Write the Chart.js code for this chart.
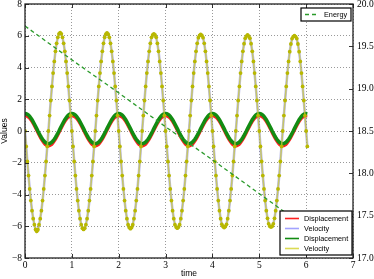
<!DOCTYPE html>
<html>
<head>
<meta charset="utf-8">
<script src="https://cdn.jsdelivr.net/npm/chart.js@4.4.1/dist/chart.umd.min.js"></script>
<style>
  html, body { margin: 0; padding: 0; background: #fff; }
  #wrap { width: 374px; height: 279px; position: relative; }
</style>
</head>
<body>
<div id="wrap"><canvas id="plot"></canvas></div>
<script>
// --- DATA ---
const TIME = [
  0,0.025,0.05,0.075,0.1,0.125,0.15,0.175,0.2,0.225,0.25,0.275,0.3,0.325,0.35,0.375,0.4,0.425,0.45,0.475,
  0.5,0.525,0.55,0.575,0.6,0.625,0.65,0.675,0.7,0.725,0.75,0.775,0.8,0.825,0.85,0.875,0.9,0.925,0.95,0.975,
  1,1.025,1.05,1.075,1.1,1.125,1.15,1.175,1.2,1.225,1.25,1.275,1.3,1.325,1.35,1.375,1.4,1.425,1.45,1.475,
  1.5,1.525,1.55,1.575,1.6,1.625,1.65,1.675,1.7,1.725,1.75,1.775,1.8,1.825,1.85,1.875,1.9,1.925,1.95,1.975,
  2,2.025,2.05,2.075,2.1,2.125,2.15,2.175,2.2,2.225,2.25,2.275,2.3,2.325,2.35,2.375,2.4,2.425,2.45,2.475,
  2.5,2.525,2.55,2.575,2.6,2.625,2.65,2.675,2.7,2.725,2.75,2.775,2.8,2.825,2.85,2.875,2.9,2.925,2.95,2.975,
  3,3.025,3.05,3.075,3.1,3.125,3.15,3.175,3.2,3.225,3.25,3.275,3.3,3.325,3.35,3.375,3.4,3.425,3.45,3.475,
  3.5,3.525,3.55,3.575,3.6,3.625,3.65,3.675,3.7,3.725,3.75,3.775,3.8,3.825,3.85,3.875,3.9,3.925,3.95,3.975,
  4,4.025,4.05,4.075,4.1,4.125,4.15,4.175,4.2,4.225,4.25,4.275,4.3,4.325,4.35,4.375,4.4,4.425,4.45,4.475,
  4.5,4.525,4.55,4.575,4.6,4.625,4.65,4.675,4.7,4.725,4.75,4.775,4.8,4.825,4.85,4.875,4.9,4.925,4.95,4.975,
  5,5.025,5.05,5.075,5.1,5.125,5.15,5.175,5.2,5.225,5.25,5.275,5.3,5.325,5.35,5.375,5.4,5.425,5.45,5.475,
  5.5,5.525,5.55,5.575,5.6,5.625,5.65,5.675,5.7,5.725,5.75,5.775,5.8,5.825,5.85,5.875,5.9,5.925,5.95,5.975,
  6,6.025
];

const DISPLACEMENT_RED = [
  0.93,0.92,0.88,0.83,0.75,0.65,0.54,0.41,0.27,0.13,-0.02,-0.17,-0.31,-0.45,-0.58,-0.69,-0.79,-0.87,-0.92,-0.96,
  -0.97,-0.96,-0.92,-0.87,-0.79,-0.69,-0.58,-0.45,-0.31,-0.17,-0.02,0.13,0.27,0.41,0.54,0.65,0.75,0.83,0.88,0.92,
  0.93,0.92,0.88,0.83,0.75,0.65,0.54,0.41,0.27,0.13,-0.02,-0.17,-0.31,-0.45,-0.58,-0.69,-0.79,-0.87,-0.92,-0.96,
  -0.97,-0.96,-0.92,-0.87,-0.79,-0.69,-0.58,-0.45,-0.31,-0.17,-0.02,0.13,0.27,0.41,0.54,0.65,0.75,0.83,0.88,0.92,
  0.93,0.92,0.88,0.83,0.75,0.65,0.54,0.41,0.27,0.13,-0.02,-0.17,-0.31,-0.45,-0.58,-0.69,-0.79,-0.87,-0.92,-0.96,
  -0.97,-0.96,-0.92,-0.87,-0.79,-0.69,-0.58,-0.45,-0.31,-0.17,-0.02,0.13,0.27,0.41,0.54,0.65,0.75,0.83,0.88,0.92,
  0.93,0.92,0.88,0.83,0.75,0.65,0.54,0.41,0.27,0.13,-0.02,-0.17,-0.31,-0.45,-0.58,-0.69,-0.79,-0.87,-0.92,-0.96,
  -0.97,-0.96,-0.92,-0.87,-0.79,-0.69,-0.58,-0.45,-0.31,-0.17,-0.02,0.13,0.27,0.41,0.54,0.65,0.75,0.83,0.88,0.92,
  0.93,0.92,0.88,0.83,0.75,0.65,0.54,0.41,0.27,0.13,-0.02,-0.17,-0.31,-0.45,-0.58,-0.69,-0.79,-0.87,-0.92,-0.96,
  -0.97,-0.96,-0.92,-0.87,-0.79,-0.69,-0.58,-0.45,-0.31,-0.17,-0.02,0.13,0.27,0.41,0.54,0.65,0.75,0.83,0.88,0.92,
  0.93,0.92,0.88,0.83,0.75,0.65,0.54,0.41,0.27,0.13,-0.02,-0.17,-0.31,-0.45,-0.58,-0.69,-0.79,-0.87,-0.92,-0.96,
  -0.97,-0.96,-0.92,-0.87,-0.79,-0.69,-0.58,-0.45,-0.31,-0.17,-0.02,0.13,0.27,0.41,0.54,0.65,0.75,0.83,0.88,0.92,
  0.93,0.92
];

const DISPLACEMENT_GREEN = [
  1.10,1.09,1.05,1.00,0.92,0.82,0.71,0.58,0.44,0.30,0.15,0.00,-0.14,-0.28,-0.41,-0.52,-0.62,-0.70,-0.75,-0.79,
  -0.80,-0.79,-0.75,-0.70,-0.62,-0.52,-0.41,-0.28,-0.14,0.00,0.15,0.30,0.44,0.58,0.71,0.82,0.92,1.00,1.05,1.09,
  1.10,1.09,1.05,1.00,0.92,0.82,0.71,0.58,0.44,0.30,0.15,0.00,-0.14,-0.28,-0.41,-0.52,-0.62,-0.70,-0.75,-0.79,
  -0.80,-0.79,-0.75,-0.70,-0.62,-0.52,-0.41,-0.28,-0.14,0.00,0.15,0.30,0.44,0.58,0.71,0.82,0.92,1.00,1.05,1.09,
  1.10,1.09,1.05,1.00,0.92,0.82,0.71,0.58,0.44,0.30,0.15,0.00,-0.14,-0.28,-0.41,-0.52,-0.62,-0.70,-0.75,-0.79,
  -0.80,-0.79,-0.75,-0.70,-0.62,-0.52,-0.41,-0.28,-0.14,0.00,0.15,0.30,0.44,0.58,0.71,0.82,0.92,1.00,1.05,1.09,
  1.10,1.09,1.05,1.00,0.92,0.82,0.71,0.58,0.44,0.30,0.15,0.00,-0.14,-0.28,-0.41,-0.52,-0.62,-0.70,-0.75,-0.79,
  -0.80,-0.79,-0.75,-0.70,-0.62,-0.52,-0.41,-0.28,-0.14,0.00,0.15,0.30,0.44,0.58,0.71,0.82,0.92,1.00,1.05,1.09,
  1.10,1.09,1.05,1.00,0.92,0.82,0.71,0.58,0.44,0.30,0.15,0.00,-0.14,-0.28,-0.41,-0.52,-0.62,-0.70,-0.75,-0.79,
  -0.80,-0.79,-0.75,-0.70,-0.62,-0.52,-0.41,-0.28,-0.14,0.00,0.15,0.30,0.44,0.58,0.71,0.82,0.92,1.00,1.05,1.09,
  1.10,1.09,1.05,1.00,0.92,0.82,0.71,0.58,0.44,0.30,0.15,0.00,-0.14,-0.28,-0.41,-0.52,-0.62,-0.70,-0.75,-0.79,
  -0.80,-0.79,-0.75,-0.70,-0.62,-0.52,-0.41,-0.28,-0.14,0.00,0.15,0.30,0.44,0.58,0.71,0.82,0.92,1.00,1.05,1.09,
  1.10,1.09
];

// velocity (blue and yellow traces sit on top of each other)
const VELOCITY = [
  0,-0.97,-1.92,-2.81,-3.65,-4.38,-5.02,-5.52,-5.90,-6.20,-6.32,-6.22,-5.90,-5.52,-5.02,-4.38,-3.65,-2.81,-1.92,-0.97,
  0,0.97,1.92,2.81,3.65,4.38,5.02,5.52,5.90,6.12,6.20,6.12,5.90,5.52,5.02,4.38,3.65,2.81,1.92,0.97,
  0,-0.97,-1.92,-2.81,-3.65,-4.38,-5.02,-5.52,-5.90,-6.12,-6.20,-6.12,-5.90,-5.52,-5.02,-4.38,-3.65,-2.81,-1.92,-0.97,
  0,0.97,1.92,2.81,3.65,4.38,5.02,5.52,5.90,6.10,6.18,6.10,5.90,5.52,5.02,4.38,3.65,2.81,1.92,0.97,
  0,-0.97,-1.92,-2.81,-3.65,-4.38,-5.02,-5.52,-5.90,-6.08,-6.15,-6.08,-5.90,-5.52,-5.02,-4.38,-3.65,-2.81,-1.92,-0.97,
  0,0.97,1.92,2.81,3.65,4.38,5.02,5.52,5.90,6.05,6.12,6.05,5.90,5.52,5.02,4.38,3.65,2.81,1.92,0.97,
  0,-0.97,-1.92,-2.81,-3.65,-4.38,-5.02,-5.52,-5.90,-6.05,-6.12,-6.05,-5.90,-5.52,-5.02,-4.38,-3.65,-2.81,-1.92,-0.97,
  0,0.97,1.92,2.81,3.65,4.38,5.02,5.52,5.88,6.02,6.08,6.02,5.88,5.52,5.02,4.38,3.65,2.81,1.92,0.97,
  0,-0.97,-1.92,-2.81,-3.65,-4.38,-5.02,-5.52,-5.88,-6.02,-6.08,-6.02,-5.88,-5.52,-5.02,-4.38,-3.65,-2.81,-1.92,-0.97,
  0,0.97,1.92,2.81,3.65,4.38,5.02,5.50,5.85,5.98,6.05,5.98,5.85,5.50,5.02,4.38,3.65,2.81,1.92,0.97,
  0,-0.97,-1.92,-2.81,-3.65,-4.38,-5.02,-5.50,-5.85,-6.00,-6.05,-6.00,-5.85,-5.50,-5.02,-4.38,-3.65,-2.81,-1.92,-0.97,
  0,0.97,1.92,2.81,3.65,4.38,5.00,5.48,5.82,5.95,6.00,5.95,5.82,5.48,5.00,4.38,3.65,2.81,1.92,0.97,
  0,-0.97
];

const ENERGY_TIME = [0, 1, 2, 3, 4, 5, 6, 6.025];
const ENERGY = [19.74, 19.34, 18.95, 18.55, 18.16, 17.76, 17.36, 17.35];

const X_TICKS = [0, 1, 2, 3, 4, 5, 6, 7];
const Y_TICKS = [-8, -6, -4, -2, 0, 2, 4, 6, 8];
const Y2_TICKS = [17.0, 17.5, 18.0, 18.5, 19.0, 19.5, 20.0];

const SERIF = "'Liberation Serif', 'DejaVu Serif', serif";
const SANS = "'Liberation Sans', Arial, sans-serif";

const pts = (xs, ys) => xs.map((x, i) => ({ x: x, y: ys[i] }));
const fmtMinus = v => (v < 0 ? '\u2212' + Math.abs(v) : String(v));

// axis frame, inward ticks and the two legend boxes
const decor = {
    id: 'decor',
    afterDatasetsDraw(chart) {
        const { ctx, chartArea: a, scales } = chart;
        ctx.save();

        // tick marks
        ctx.strokeStyle = '#000';
        ctx.lineWidth = 0.8;
        ctx.setLineDash([]);
        ctx.beginPath();
        X_TICKS.forEach(t => {
            const px = Math.round(scales.x.getPixelForValue(t)) + 0.5;
            ctx.moveTo(px, a.bottom); ctx.lineTo(px, a.bottom - 4);
            ctx.moveTo(px, a.top); ctx.lineTo(px, a.top + 4);
        });
        Y_TICKS.forEach(v => {
            const py = Math.round(scales.y.getPixelForValue(v)) + 0.5;
            ctx.moveTo(a.left, py); ctx.lineTo(a.left + 4, py);
        });
        Y2_TICKS.forEach(v => {
            const py = Math.round(scales.y2.getPixelForValue(v)) + 0.5;
            ctx.moveTo(a.right, py); ctx.lineTo(a.right - 4, py);
        });
        ctx.stroke();

        // frame
        ctx.strokeStyle = '#222';
        ctx.lineWidth = 1.3;
        ctx.strokeRect(a.left, a.top, a.right - a.left, a.bottom - a.top);

        // legends
        const sets = chart.data.datasets;
        const box = (x, y, w, h) => {
            ctx.setLineDash([]);
            ctx.fillStyle = '#fff';
            ctx.fillRect(x, y, w, h);
            ctx.strokeStyle = '#000';
            ctx.lineWidth = 1.2;
            ctx.strokeRect(x, y, w, h);
        };
        const entry = (ds, x, y, textX) => {
            ctx.save();
            ctx.strokeStyle = ds.legendColor || ds.borderColor;
            ctx.lineWidth = 1.6;
            ctx.setLineDash(ds.borderDash || []);
            ctx.beginPath();
            ctx.moveTo(x, y); ctx.lineTo(x + 14, y);
            ctx.stroke();
            ctx.restore();
            ctx.fillStyle = '#000';
            ctx.font = '7.3px ' + SANS;
            ctx.textBaseline = 'middle';
            ctx.textAlign = 'left';
            ctx.fillText(ds.label, textX, y + 0.5);
        };

        const top = { x: a.right - 52, y: a.top + 4, w: 50, h: 13 };
        box(top.x, top.y, top.w, top.h);
        sets.filter(d => d.legendGroup === 'top').forEach(ds => entry(ds, top.x + 4, top.y + 6.5, top.x + 23));

        const bot = { x: a.right - 73, y: a.bottom - 47, w: 72, h: 44 };
        box(bot.x, bot.y, bot.w, bot.h);
        sets.filter(d => d.legendGroup === 'bottom').forEach((ds, i) => entry(ds, bot.x + 5, bot.y + 7.5 + i * 10, bot.x + 24));

        ctx.restore();
    }
};

const gridDotted = { color: 'rgba(0,0,0,0.5)', lineWidth: 0.8, drawTicks: false };

new Chart(document.getElementById('plot'), {
    type: 'line',
    data: {
        datasets: [
            {
                label: 'Energy', data: pts(ENERGY_TIME, ENERGY), yAxisID: 'y2',
                borderColor: '#2a9a2a', borderWidth: 1.3, borderDash: [4, 3],
                pointRadius: 0, order: 0, legendGroup: 'top'
            },
            {
                label: 'Displacement', data: pts(TIME, DISPLACEMENT_RED), yAxisID: 'y',
                borderColor: '#ff2020', borderWidth: 2.2, pointRadius: 0, order: 5, legendGroup: 'bottom'
            },
            {
                label: 'Velocity', data: pts(TIME, VELOCITY), yAxisID: 'y',
                borderColor: 'rgba(90,90,200,0.4)', legendColor: 'rgba(100,100,255,0.6)', borderWidth: 2.6,
                pointRadius: 0, order: 4, legendGroup: 'bottom'
            },
            {
                label: 'Displacement', data: pts(TIME, DISPLACEMENT_GREEN), yAxisID: 'y',
                borderColor: '#128c12', borderWidth: 3.6, pointRadius: 0, order: 3, legendGroup: 'bottom'
            },
            {
                label: 'Velocity', data: pts(TIME, VELOCITY), yAxisID: 'y',
                borderColor: 'rgba(200,200,70,0.8)', legendColor: 'rgba(210,210,40,0.8)', borderWidth: 1.5,
                pointRadius: 1.9, pointBackgroundColor: '#b8b800', pointBorderWidth: 0,
                order: 2, legendGroup: 'bottom'
            }
        ]
    },
    options: {
        responsive: true,
        maintainAspectRatio: false,
        animation: false,
        events: [],
        layout: { padding: { top: 3, left: 0, right: 0, bottom: 0 } },
        plugins: { legend: { display: false }, tooltip: { enabled: false } },
        elements: { line: { tension: 0 } },
        scales: {
            x: {
                type: 'linear', min: 0, max: 7,
                afterBuildTicks: s => { s.ticks = X_TICKS.map(v => ({ value: v })); },
                afterFit: s => { s.height = 21; s.paddingLeft = 0; s.paddingRight = 0; },
                grid: gridDotted,
                border: { display: false, dash: [1, 2] },
                ticks: { padding: 2, color: '#000', font: { family: SERIF, size: 9.5 }, maxRotation: 0 },
                title: { display: true, text: 'time', color: '#000', font: { family: SANS, size: 8.5 }, padding: 0 }
            },
            y: {
                type: 'linear', position: 'left', min: -8, max: 8,
                afterBuildTicks: s => { s.ticks = Y_TICKS.map(v => ({ value: v })); },
                afterFit: s => { s.width = 25; s.paddingTop = 0; s.paddingBottom = 0; },
                grid: gridDotted,
                border: { display: false, dash: [1, 2] },
                ticks: { padding: 3, color: '#000', font: { family: SERIF, size: 9.5 }, callback: fmtMinus },
                title: { display: true, text: 'Values', color: '#000', font: { family: SANS, size: 8.5 }, padding: 0 }
            },
            y2: {
                type: 'linear', position: 'right', min: 17, max: 20,
                afterBuildTicks: s => { s.ticks = Y2_TICKS.map(v => ({ value: v })); },
                afterFit: s => { s.width = 21; s.paddingTop = 0; s.paddingBottom = 0; },
                grid: { drawOnChartArea: false, drawTicks: false },
                border: { display: false },
                ticks: { padding: 4, color: '#000', font: { family: SERIF, size: 9.5 }, callback: v => v.toFixed(1) }
            }
        }
    },
    plugins: [decor]
});
</script>
</body>
</html>
